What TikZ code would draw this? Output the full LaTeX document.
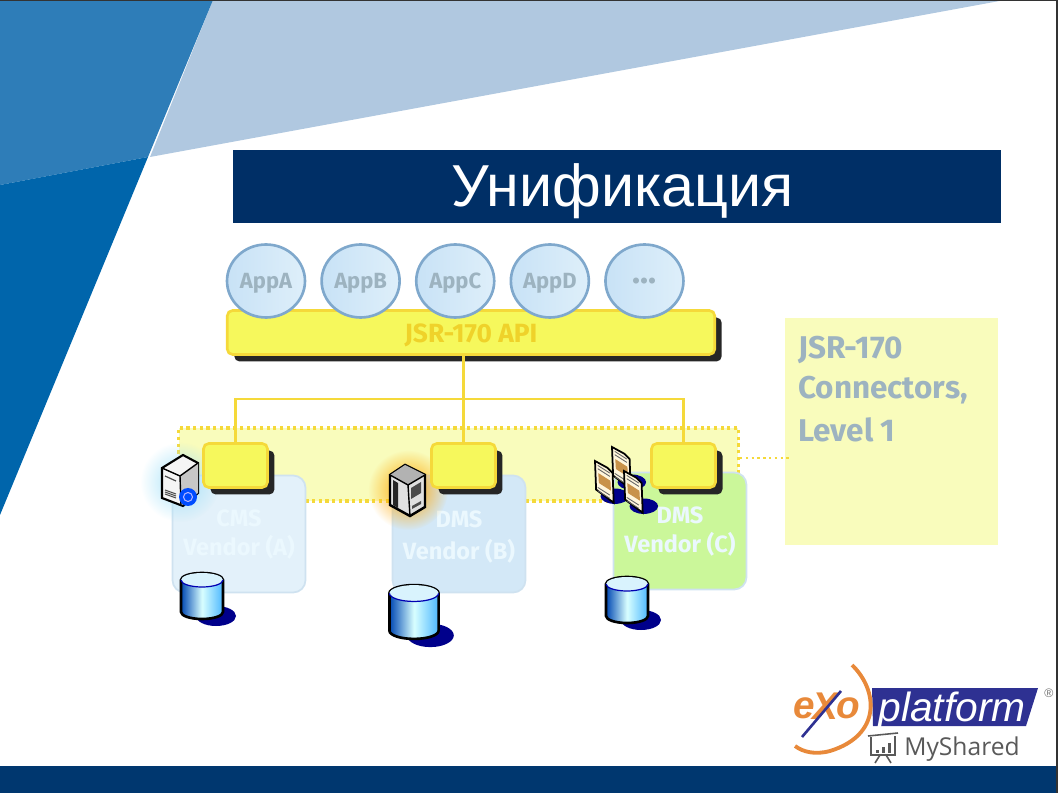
\documentclass[tikz,border=0pt]{standalone}
\usepackage{fontspec}
\setmainfont{Liberation Sans}
\newfontfamily\labelfont{Fira Sans}
\newfontfamily\brandfont{Open Sans}
\usetikzlibrary{positioning,shapes.geometric,shadows,fadings}
\definecolor{titlenavy}{HTML}{002F66}
\definecolor{slideblue}{HTML}{2E7DB8}
\definecolor{slidedeep}{HTML}{0065AB}
\definecolor{slidepale}{HTML}{B0C8E0}
\definecolor{footnavy}{HTML}{00376F}
\definecolor{gold}{HTML}{F5D93A}
\definecolor{apitext}{HTML}{EFD22A}
\definecolor{lemon}{HTML}{F6F85C}
\definecolor{zoneyellow}{HTML}{F9FCBC}
\definecolor{notetext}{HTML}{9DB3C0}
\definecolor{logonavy}{HTML}{2E3192}
\definecolor{logoorange}{HTML}{E8893A}
\definecolor{shadowblue}{HTML}{00008B}
\definecolor{appleft}{HTML}{C8E2F6}
\definecolor{appright}{HTML}{DEEFFA}
\definecolor{appline}{HTML}{7FA8CC}
\definecolor{vendorline}{HTML}{CFE2F0}
\definecolor{vendorA}{HTML}{E3F1FA}
\definecolor{vendorB}{HTML}{D3E8F7}
\definecolor{vendorC}{HTML}{CBF79A}
\definecolor{pagetan}{HTML}{C8924A}
\definecolor{pagecream}{HTML}{FFF6DC}
\tikzfading[name=softglow, inner color=transparent!0, outer color=transparent!100]
\tikzset{
  appcircle/.style={ellipse, draw=appline, line width=1.5pt, minimum width=1.56cm, minimum height=1.46cm, inner sep=0pt,
    left color=appleft, right color=appright, text depth=0pt,
    text=notetext, font=\labelfont\bfseries\fontsize{12.5}{14}\selectfont},
  apibar/.style={draw=gold, line width=1.5pt, rounded corners=3pt, fill=lemon, minimum width=9.75cm,
    minimum height=0.88cm, inner sep=0pt, text=apitext, font=\labelfont\bfseries\fontsize{15}{17}\selectfont,
    drop shadow={shadow xshift=0.14cm, shadow yshift=-0.14cm, fill=black!85, opacity=1}},
  connbox/.style={apibar, minimum width=1.28cm},
  vendorbox/.style={draw=vendorline, line width=1pt, rounded corners=7pt, minimum width=2.66cm, minimum height=2.34cm,
    inner sep=0pt},
  vendorlabel/.style={align=center, inner sep=0pt, text=white!92!cyan, font=\labelfont\bfseries\fontsize{13.4}{16.5}\selectfont},
  zonebox/.style={draw=gold, line width=1.8pt, dotted, fill=zoneyellow, inner sep=0pt},
  notebox/.style={fill=zoneyellow, minimum width=4.26cm, minimum height=4.54cm, inner sep=0pt},
  bus/.style={draw=gold, line width=1.3pt},
  notelabel/.style={anchor=west, inner sep=0pt, text=notetext, font=\labelfont\bfseries\fontsize{17.9}{20}\selectfont},
  logoletter/.style={text=logoorange, inner sep=0pt, font=\fontsize{22}{26}\selectfont\itshape\bfseries},
  pics/dbstack/.style={code={
    \fill[shadowblue] (14,20) ellipse [x radius=20, y radius=10];
    \draw[black, line width=1.5pt, left color=blue!60!cyan!70!black, right color=blue!40!cyan!70, middle color=white!85!cyan]
      (-21,-16) -- (-21,16) arc[start angle=180, end angle=0, x radius=21, y radius=7]
      -- (21,-16) arc[start angle=0, end angle=-180, x radius=21, y radius=7] -- cycle;
    \fill[white!85!cyan] (-21,-16) arc[start angle=180, end angle=0, x radius=21, y radius=7]
      arc[start angle=0, end angle=-180, x radius=21, y radius=7] -- cycle;
    \draw[blue!70!black, line width=0.7pt] (-21,-16) arc[start angle=180, end angle=0, x radius=21, y radius=7];
  }},
  pics/docpage/.style={code={
    \fill[shadowblue] (18,32) ellipse [x radius=13, y radius=7];
    \draw[black, line width=1pt, fill=pagecream] (0,0) -- (11,6) -- (16,11) -- (17,38) -- (1,26) -- cycle;
    \fill[pagetan] (3,11) -- (14,18) -- (14.5,27) -- (3.5,20) -- cycle;
    \foreach \i in {0,3,20,23} \draw[black!60, line width=0.5pt] (2.5,4+\i) -- (13.5,11+\i);
  }}
}

\begin{document}
\begin{tikzpicture}[x=0.02cm, y=-0.02cm]
  \useasboundingbox (0,0) rectangle (1058,793);

  % slide background
  \fill[slidepale] (213,0) -- (1005,0) -- (150,157) -- cycle;
  \fill[slideblue] (0,0) -- (213,0) -- (148,157) -- (0,185) -- cycle;
  \fill[slidedeep] (0,185) -- (148,157) -- (0,515) -- cycle;
  \fill[footnavy] (0,766) rectangle (1058,793);
  \fill[black!80] (0,0) rectangle (1058,1);
  \fill[black!80] (1056,0) rectangle (1058,793);

  \node[fill=titlenavy, text=white, minimum width=15.36cm, minimum height=1.46cm, inner sep=0pt,
    font=\fontsize{33.7}{40}\selectfont] (title) at (617,186.5) {\hspace*{0.22cm}\smash{\raisebox{-0.41cm}{Унификация}}};

  % API layer
  \node[apibar] (api) at (471,332.5) {\smash{\raisebox{-0.2cm}{JSR-170 API}}};
  \node[appcircle] (appA) at (266,281) {AppA};
  \node[appcircle, right=0.28cm of appA] (appB) {AppB};
  \node[appcircle, right=0.28cm of appB] (appC) {AppC};
  \node[appcircle, right=0.28cm of appC] (appD) {AppD};
  \node[appcircle, right=0.28cm of appD, font=\labelfont\bfseries\fontsize{19}{20}\selectfont] (appE) {...};

  % connector zone and vendors
  \node[zonebox, minimum width=11.2cm, minimum height=1.46cm] (zone) at (458.5,464.5) {};
  \node[vendorbox, fill=vendorA] (vendA) at (239,534) {};
  \node[vendorbox, fill=vendorB] (vendB) at (459,534) {};
  \node[vendorbox, fill=vendorC] (vendC) at (680,531) {};
  \node[vendorlabel] (textA) at (239,535) {CMS\\Vendor (A)};
  \node[vendorlabel] (textB) at (459,537) {DMS\\[2pt]Vendor (B)};
  \node[vendorlabel] (textC) at (680,532) {DMS\\Vendor (C)};

  \node[notebox] (note) at (891.5,431.5) {};
  \node[notelabel] (noteA) at (798,350) {JSR-170};
  \node[notelabel, below=0.8cm of noteA.west, anchor=west] (noteB) {Connectors,};
  \node[notelabel, below=0.8cm of noteB.west, anchor=west] (noteC) {Level 1};
  \draw[bus, dotted, line width=1.6pt] (zone.east |- 0,458) -- ([xshift=0.1cm]note.west |- 0,458);

  % glows behind the servers
  \fill[cyan!35, path fading=softglow] (180,482) circle (40);
  \fill[orange!70!yellow, path fading=softglow] (408,490) circle (40);

  \node[connbox] (connA) at (235.5,465.5) {};
  \node[connbox] (connB) at (463.5,465.5) {};
  \node[connbox] (connC) at (683.5,465.5) {};

  \coordinate (busjoin) at (connB.north |- 0,399);
  \draw[bus] (api.south -| connB.north) -- (connB.north);
  \draw[bus] (connA.north) |- (busjoin) -| (connC.north);

  % databases
  \pic at (202,596) {dbstack};
  \pic[scale=1.17] at (414,612) {dbstack};
  \pic at (627,600) {dbstack};

  % server with globe
  \draw[black, line width=1.2pt, fill=white!92!gray] (162,468) -- (183,455) -- (198,463) -- (198,493) -- (183,506) -- (162,498) -- cycle;
  \fill[black!22] (180,476) -- (198,463) -- (198,493) -- (181,505) -- cycle;
  \draw[black, line width=0.8pt] (162,468) -- (180,476) -- (198,463) (180,476) -- (181,505);
  \foreach \i in {0,4,8} \draw[black!70, line width=0.6pt] (165,490+\i*0.5) -- (176,494+\i*0.5);
  \draw[black!70, line width=0.7pt] (165,476) -- (176,481);
  \fill[blue!70!cyan] (188,497) circle (9);
  \draw[white!70!blue, line width=0.6pt] (188,497) circle (4.5);

  % rack server
  \draw[black, line width=1.4pt, fill=black!12] (390,475) -- (405,465) -- (425,475) -- (425,507) -- (410,516) -- (390,505) -- cycle;
  \fill[black!30] (390,475) -- (405,465) -- (425,475) -- (408,485) -- cycle;
  \draw[black, line width=0.8pt] (390,475) -- (408,485) -- (425,475) (408,485) -- (410,516);
  \fill[black!85] (393,480) -- (398,483) -- (398,508) -- (393,505) -- cycle;
  \fill[black!70] (411,488) -- (421,482) -- (421,493) -- (411,499) -- cycle;
  \fill[black!70] (412,506) -- (421,501) -- (421,504) -- (412,509) -- cycle;

  % documents
  \pic[scale=1.1] at (612,447) {docpage};
  \pic[scale=1.1] at (595,461) {docpage};
  \pic[scale=1.1] at (624,471) {docpage};

  % logo
  \fill[logonavy] (872,688) -- (1038,688) -- (1026,726) -- (873,726) -- cycle;
  \node[text=white, inner sep=0pt, font=\fontsize{23.2}{26}\selectfont\itshape] (platform) at (952,711) {platform};
  \node[logoletter] (logoE) at (804,708) {e};
  \node[logoletter] (logoX) at (825,706) {X};
  \node[logoletter] (logoO) at (848,708) {o};
  \draw[logonavy, line width=1.5pt] (841,691) -- (802,737);
  \draw[logoorange, line width=2.2pt] (852,665) .. controls (878,690) and (882,735) .. (830,751) .. controls (815,755) and (803,752) .. (795,746);
  \node[text=black!55, inner sep=0pt, font=\fontsize{7}{8}\selectfont] (regmark) at (1049,693) {®};
  \node[text=black!65, inner sep=0pt, font=\brandfont\fontsize{14}{16}\selectfont] (myshared) at (962,749) {MyShared};
  \draw[black!65, line width=0.9pt] (868,736) -- (898,733) (871,737) -- (871,755) -- (895,755) -- (895,736) (880,755) -- (875,763) (886,755) -- (891,763);
  \foreach \i/\h in {876/3,882/6,888/10} \fill[black!65] (\i,753) rectangle (\i+3,753-\h);
\end{tikzpicture}
\end{document}
